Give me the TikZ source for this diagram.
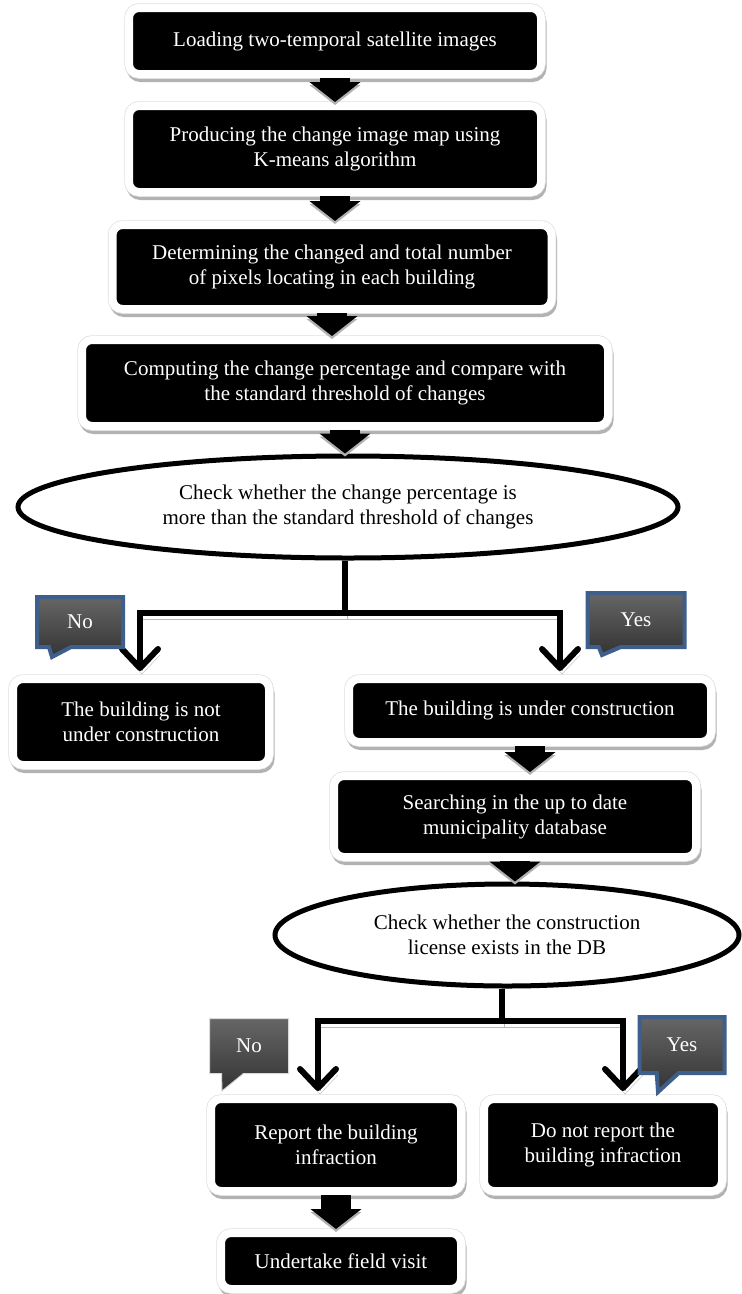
\documentclass[tikz,border=0pt]{standalone}
\usepackage{fontspec}
\setmainfont{Liberation Serif}
\usetikzlibrary{arrows.meta,shapes.geometric,shapes.callouts}
\definecolor{answerblue}{RGB}{62,94,140}

\tikzset{
  procbox/.style={fill=black, text=white, draw=white, line width=8pt, rounded corners=10pt,
    align=center, inner sep=0pt,
    preaction={draw=gray!60, line width=8pt, transform canvas={xshift=1.5pt,yshift=-4pt}},
    preaction={draw=gray!25, line width=9.5pt}},
  checkell/.style={ellipse, draw=black, fill=white, line width=5pt, align=center, inner sep=0pt},
  bigarrow/.style={line width=30pt, -{Triangle[width=50pt,length=20pt]},
    preaction={draw=gray!60, transform canvas={yshift=-3pt}}},
  branch/.style={line width=6pt, preaction={draw=gray!55, transform canvas={xshift=2pt,yshift=-6pt}}},
  branchtip/.style={-{Straight Barb[round,width=36pt,length=19pt]}, shorten >=4pt},
  answer/.style={rectangle callout, draw=answerblue, line width=4pt, text=white,
    top color=black!60, middle color=gray!75, bottom color=black!80,
    callout pointer width=22pt, inner sep=0pt}
}

\begin{document}
\begin{tikzpicture}[x=1pt, y=-1pt, every node/.style={font=\fontsize{21}{25}\selectfont}]
  \useasboundingbox (0,0) rectangle (742,1294);

  % main chain
  \node[procbox, minimum width=412pt, minimum height=66pt] (load) at (335,41)
    {Loading two-temporal satellite images};
  \node[procbox, minimum width=412pt, minimum height=86pt] (produce) at (335,149)
    {Producing the change image map using\\K-means algorithm};
  \node[procbox, minimum width=439pt, minimum height=84pt] (determine) at (332,267)
    {Determining the changed and total number\\of pixels locating in each building};
  \node[procbox, minimum width=526pt, minimum height=86pt] (compute) at (345,383)
    {Computing the change percentage and compare with\\the standard threshold of changes};
  \node[checkell, minimum width=660pt, minimum height=102pt] (check1) at (348,507)
    {Check whether the change percentage is\\more than the standard threshold of changes};

  % first decision
  \node[procbox, minimum width=256pt, minimum height=86pt] (notuc) at (141,722)
    {The building is not\\under construction};
  \node[procbox, minimum width=362pt, minimum height=63pt] (uc) at (530,710.5)
    {The building is under construction};
  \node[procbox, minimum width=362pt, minimum height=81pt] (search) at (515,816.5)
    {Searching in the up to date\\municipality database};
  \node[checkell, minimum width=464pt, minimum height=102pt] (check2) at (507,935)
    {Check whether the construction\\license exists in the DB};

  % second decision
  \node[procbox, minimum width=250pt, minimum height=92pt] (report) at (336,1145)
    {Report the building\\infraction};
  \node[procbox, minimum width=238pt, minimum height=92pt] (noreport) at (603,1145)
    {Do not report the\\building infraction};
  \node[procbox, minimum width=240pt, minimum height=56pt] (visit) at (341,1261)
    {Undertake field visit};

  % block arrows
  \foreach \a/\b in {load/produce, produce/determine, determine/compute, compute/check1,
                     uc/search, search/check2, report/visit}
    \draw[bigarrow] (\a.south) -- (\a.south |- \b.north);

  % branches
  \coordinate (split1) at (345,613);
  \coordinate (split2) at (502,1021);
  \draw[branch] (check1.south -| split1) -- (split1);
  \draw[branch, branchtip] (split1) -| ([xshift=-1pt]notuc.north);
  \draw[branch, branchtip] (split1) -| ([xshift=30pt]uc.north);
  \draw[branch] (check2.south -| split2) -- (split2);
  \draw[branch, branchtip] (split2) -| ([xshift=-18pt]report.north);
  \draw[branch, branchtip] (split2) -| ([xshift=20pt]noreport.north);

  % answers
  \node[answer, minimum width=86pt, minimum height=50pt, callout absolute pointer={(52,657)}] (no1) at (80,622) {No};
  \node[answer, minimum width=97pt, minimum height=54pt, callout absolute pointer={(602,655)}] (yes1) at (636,620) {Yes};
  \node[answer, draw=gray!30, line width=1pt, minimum width=79pt, minimum height=55pt, callout absolute pointer={(222,1091)}] (no2) at (249,1046) {No};
  \node[answer, minimum width=85pt, minimum height=56pt, callout absolute pointer={(658,1092)}] (yes2) at (682,1045) {Yes};
\end{tikzpicture}
\end{document}
